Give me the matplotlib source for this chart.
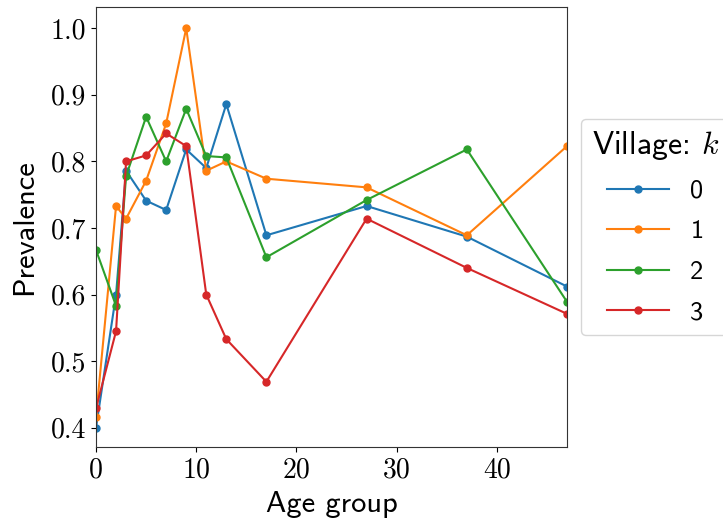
import matplotlib
matplotlib.use("Agg")
import matplotlib.pyplot as plt
from matplotlib.ticker import FuncFormatter

plt.rcParams['mathtext.fontset'] = 'cm'
plt.rcParams['axes.formatter.use_mathtext'] = True

# prevalence by age group for each village
age_groups = [0, 2, 3, 5, 7, 9, 11, 13, 17, 27, 37, 47]
village_0 = [0.400, 0.600, 0.786, 0.741, 0.727, 0.818, 0.790, 0.886, 0.689, 0.733, 0.687, 0.612]
village_1 = [0.416, 0.733, 0.714, 0.771, 0.857, 1.000, 0.786, 0.800, 0.774, 0.761, 0.689, 0.823]
village_2 = [0.667, 0.583, 0.778, 0.867, 0.800, 0.879, 0.808, 0.806, 0.656, 0.742, 0.818, 0.589]
village_3 = [0.429, 0.545, 0.800, 0.809, 0.842, 0.823, 0.600, 0.533, 0.469, 0.714, 0.640, 0.571]
villages = ['0', '1', '2', '3']

fig = plt.figure(figsize=(7.23, 5.27), dpi=100)
ax = fig.add_axes([0.1328, 0.1518, 0.6515, 0.835])

for name, vals in zip(villages, [village_0, village_1, village_2, village_3]):
    ax.plot(age_groups, vals, marker='o', markersize=5, linewidth=1.5, label=name)

ax.set_xlim(0, 47)
ax.set_ylim(0.371, 1.032)
ax.set_xticks([0, 10, 20, 30, 40])
ax.set_yticks([0.4, 0.5, 0.6, 0.7, 0.8, 0.9, 1.0])

fmt_x = FuncFormatter(lambda v, p: f'{v:.0f}')
fmt_y = FuncFormatter(lambda v, p: f'{v:.1f}')
ax.xaxis.set_major_formatter(fmt_x)
ax.yaxis.set_major_formatter(fmt_y)
for lab in ax.get_xticklabels() + ax.get_yticklabels():
    lab.set_fontfamily('cmr10')
    lab.set_fontsize(20)

for sp in ax.spines.values():
    sp.set_color('0.2')

ax.set_xlabel('Age group', fontfamily='cmss10', fontsize=22, labelpad=6)
ax.set_ylabel('Prevalence', fontfamily='cmss10', fontsize=22, labelpad=9)

leg = ax.legend(title='Village: $k$', loc='center left', bbox_to_anchor=(1.03, 0.5),
                borderaxespad=0, prop={'family': 'cmss10', 'size': 19},
                handlelength=2.35, labelspacing=0.65)
leg.get_title().set_fontfamily('cmss10')
leg.get_title().set_fontsize(23)

fig.savefig('out.png', dpi=100)
